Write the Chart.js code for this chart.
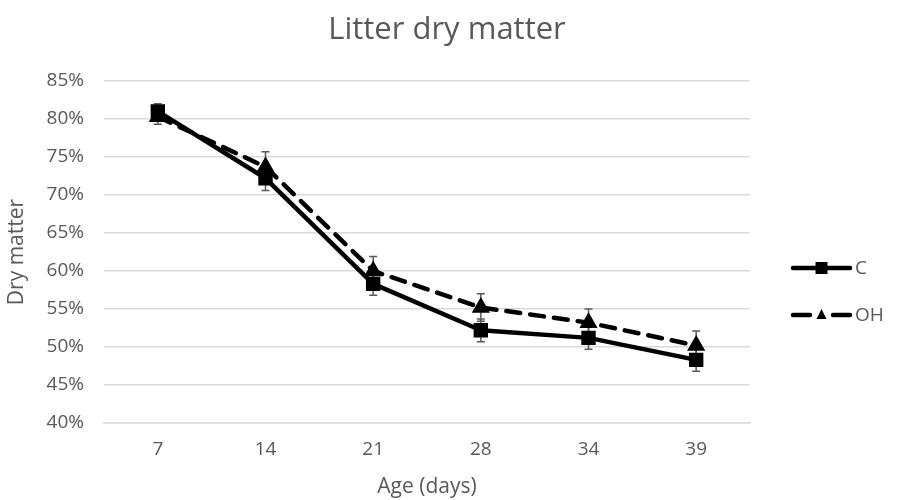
<!DOCTYPE html>
<html>
<head>
<meta charset="utf-8">
<script src="https://cdn.jsdelivr.net/npm/chart.js@4/dist/chart.umd.min.js"></script>
<style>
html,body{margin:0;padding:0;background:#fff;}
#wrap{width:900px;height:500px;}
</style>
</head>
<body>
<div id="wrap"><canvas id="c" width="900" height="500"></canvas></div>
<script>
const categories = ['7', '14', '21', '28', '34', '39'];
const seriesC = [81.0, 72.2, 58.3, 52.2, 51.2, 48.3];
const seriesOH = [80.3, 73.7, 60.0, 55.2, 53.2, 50.2];
const errC = [1.0, 1.6, 1.5, 1.5, 1.5, 1.5];
const errOH = [1.0, 2.0, 1.9, 1.8, 1.8, 1.9];
const yTicks = [40, 45, 50, 55, 60, 65, 70, 75, 80, 85];
const chartTitle = 'Litter dry matter';

const gray = '#595959';
const font = "'Open Sans', 'Liberation Sans', sans-serif";

const errorBars = {
  id: 'errorBars',
  beforeDatasetsDraw(chart) {
    const ctx = chart.ctx;
    const ys = chart.scales.y;
    ctx.save();
    ctx.strokeStyle = '#595959';
    ctx.lineWidth = 1.5;
    chart.data.datasets.forEach((ds, i) => {
      const meta = chart.getDatasetMeta(i);
      meta.data.forEach((pt, j) => {
        const v = ds.data[j], e = ds.err[j];
        const x = pt.x;
        const y1 = ys.getPixelForValue(v + e);
        const y2 = ys.getPixelForValue(v - e);
        ctx.beginPath();
        ctx.moveTo(x, y1); ctx.lineTo(x, y2);
        ctx.moveTo(x - 4, y1); ctx.lineTo(x + 4, y1);
        ctx.moveTo(x - 4, y2); ctx.lineTo(x + 4, y2);
        ctx.stroke();
      });
    });
    ctx.restore();
  }
};

const titleAndLegend = {
  id: 'titleAndLegend',
  afterDraw(chart) {
    const ctx = chart.ctx;
    ctx.save();
    // title
    ctx.fillStyle = gray;
    ctx.font = "31px " + font;
    ctx.textAlign = 'center';
    ctx.textBaseline = 'middle';
    ctx.fillText(chartTitle, 447, 30);
    // legend
    const area = chart.chartArea;
    const x0 = area.right + 43, x1 = x0 + 57;
    const rows = [268, 315];
    chart.data.datasets.forEach((ds, i) => {
      const y = rows[i];
      ctx.strokeStyle = '#000';
      ctx.lineWidth = 4.5;
      ctx.lineCap = 'round';
      ctx.beginPath();
      if (ds.borderDash) {
        ctx.moveTo(x0, y); ctx.lineTo(x0 + 17, y);
        ctx.moveTo(x1 - 17, y); ctx.lineTo(x1, y);
      } else {
        ctx.moveTo(x0, y); ctx.lineTo(x1, y);
      }
      ctx.stroke();
      ctx.fillStyle = '#000';
      const cx = (x0 + x1) / 2;
      if (ds.pointStyle === 'rect') {
        ctx.fillRect(cx - 6, y - 6, 12, 12);
      } else {
        ctx.beginPath();
        ctx.moveTo(cx, y - 6); ctx.lineTo(cx + 5, y + 4); ctx.lineTo(cx - 5, y + 4);
        ctx.closePath(); ctx.fill();
      }
      ctx.fillStyle = gray;
      ctx.font = "19px " + font;
      ctx.textBaseline = 'middle';
      ctx.textAlign = 'left';
      ctx.fillText(ds.label, x1 + 5, y + 1);
    });
    ctx.restore();
  }
};

new Chart(document.getElementById('c'), {
  type: 'line',
  data: {
    labels: categories,
    datasets: [
      {
        label: 'C', data: seriesC, err: errC,
        borderColor: '#000', backgroundColor: '#000', borderWidth: 4.5,
        pointStyle: 'rect', pointRadius: 7, pointHoverRadius: 7,
        tension: 0, borderJoinStyle: 'round'
      },
      {
        label: 'OH', data: seriesOH, err: errOH,
        borderColor: '#000', backgroundColor: '#000', borderWidth: 4.5,
        borderDash: [14, 10], borderCapStyle: 'round',
        pointStyle: 'triangle', pointRadius: 6, pointHoverRadius: 6,
        tension: 0
      }
    ]
  },
  options: {
    responsive: false,
    animation: false,
    devicePixelRatio: 1,
    layout: { padding: { left: 0, right: 150, top: 81, bottom: 0 } },
    plugins: {
      legend: { display: false },
      tooltip: { enabled: false },
      title: { display: false }
    },
    scales: {
      x: {
        offset: true,
        afterFit(scale) { scale.height = 77; },
        grid: { display: false, drawTicks: false },
        border: { color: '#d9d9d9', width: 1.5 },
        ticks: { color: gray, font: { family: font, size: 19 }, padding: 15 },
        title: { display: true, text: 'Age (days)', color: gray, font: { family: font, size: 21 }, padding: { top: 4, bottom: 0 } }
      },
      y: {
        min: 40, max: 85,
        afterFit(scale) { scale.width = 104; },
        afterBuildTicks(scale) { scale.ticks = yTicks.map(v => ({ value: v })); },
        grid: { color: '#d9d9d9', lineWidth: 1.5, drawTicks: false },
        border: { display: false },
        ticks: { color: gray, font: { family: font, size: 19 }, padding: 20, callback: v => v + '%' },
        title: { display: true, text: 'Dry matter', color: gray, font: { family: font, size: 21 }, padding: { top: 4, bottom: 0 } }
      }
    }
  },
  plugins: [errorBars, titleAndLegend]
});
</script>
</body>
</html>
